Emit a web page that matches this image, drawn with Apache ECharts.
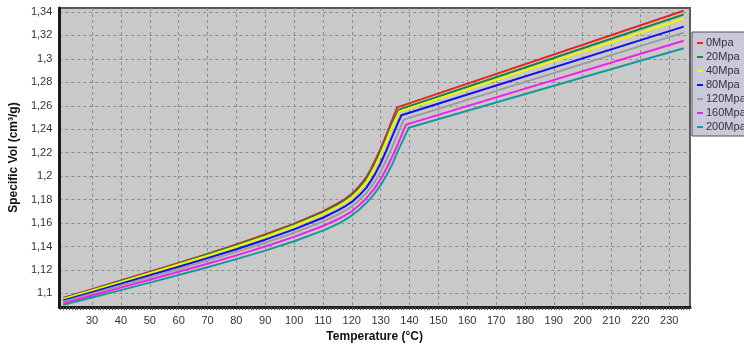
<!DOCTYPE html>
<html>
<head>
<meta charset="utf-8">
<script src="https://cdn.jsdelivr.net/npm/echarts@6/dist/echarts.min.js"></script>
<style>
html,body{margin:0;padding:0;background:#fff;}
#c{width:744px;height:348px;}
</style>
</head>
<body>
<div id="c"></div>
<script>
// ---- data ----
const seriesNames = ['0Mpa','20Mpa','40Mpa','80Mpa','120Mpa','160Mpa','200Mpa'];
const seriesColors = ['#ee2020','#15893a','#f4f400','#1010f0','#9c9c9c','#f020f0','#17999a'];

const tempBase = [20,30,40,50,60,70,80,90,100,110,115,117.5,120,122.5,125,126.5,128,130,132,134];

const t0 = tempBase.concat([135.7,235]);
const v0 = [1.0962,1.1035,1.1110,1.1185,1.1260,1.1337,1.1417,1.1502,1.1595,1.1700,1.1765,1.1803,1.1850,1.1912,1.1990,1.2055,1.2130,1.2235,1.2355,1.2480,1.2586,1.3410];

const t20 = tempBase.concat([136.3,235]);
const v20 = [1.0958,1.1030,1.1105,1.1179,1.1254,1.1331,1.1410,1.1495,1.1587,1.1691,1.1755,1.1792,1.1838,1.1898,1.1972,1.2035,1.2105,1.2210,1.2328,1.2452,1.2566,1.3378];

const t40 = tempBase.concat([136.5,235]);
const v40 = [1.0953,1.1025,1.1098,1.1172,1.1246,1.1322,1.1400,1.1484,1.1575,1.1678,1.1740,1.1776,1.1820,1.1878,1.1950,1.2012,1.2080,1.2185,1.2302,1.2425,1.2552,1.3345];

const t80 = tempBase.concat([136,137.2,235]);
const v80 = [1.0940,1.1010,1.1082,1.1154,1.1227,1.1301,1.1377,1.1458,1.1546,1.1645,1.1705,1.1739,1.1780,1.1834,1.1900,1.1955,1.2015,1.2110,1.2220,1.2340,1.2455,1.2519,1.3275];

const t120 = tempBase.concat([136,138.0,235]);
const v120 = [1.0928,1.0997,1.1067,1.1137,1.1208,1.1280,1.1354,1.1432,1.1517,1.1613,1.1670,1.1704,1.1742,1.1795,1.1855,1.1903,1.1955,1.2040,1.2140,1.2250,1.2365,1.2482,1.3224];

const t160 = tempBase.concat([136,138,138.8,235]);
const v160 = [1.0915,1.0982,1.1049,1.1116,1.1184,1.1253,1.1324,1.1400,1.1482,1.1575,1.1630,1.1663,1.1700,1.1752,1.1810,1.1853,1.1900,1.1975,1.2065,1.2165,1.2275,1.2395,1.2439,1.3154];

const t200 = tempBase.concat([136,138,139.7,235]);
const v200 = [1.0902,1.0965,1.1028,1.1092,1.1157,1.1223,1.1292,1.1365,1.1445,1.1535,1.1590,1.1625,1.1665,1.1713,1.1770,1.1810,1.1855,1.1925,1.2005,1.2100,1.2215,1.2320,1.2412,1.3090];

const xTickLabels = [30,40,50,60,70,80,90,100,110,120,130,140,150,160,170,180,190,200,210,220,230];
const yTickLabels = [1.10,1.12,1.14,1.16,1.18,1.20,1.22,1.24,1.26,1.28,1.30,1.32,1.34];

const xMin = 18.64, xMax = 237.2;
const yMin = 1.0883, yMax = 1.3434;

// ---- build ----
const allT = [t0,t20,t40,t80,t120,t160,t200];
const allV = [v0,v20,v40,v80,v120,v160,v200];
const minorTicks = [];
for (let i = Math.ceil(xMin); i <= Math.floor(xMax); i++) minorTicks.push(i);

const FONT = 'Liberation Sans, Arial, sans-serif';
const chart = echarts.init(document.getElementById('c'), null, {renderer:'canvas'});

const series = seriesNames.map((name, i) => ({
  name: name,
  type: 'line',
  xAxisIndex: 0,
  yAxisIndex: 0,
  showSymbol: false,
  symbol: 'none',
  animation: false,
  color: seriesColors[i],
  lineStyle: {width: 2, color: seriesColors[i], join: 'round'},
  data: allT[i].map((t, k) => [t, allV[i][k]])
}));

chart.setOption({
  animation: false,
  backgroundColor: '#ffffff',
  textStyle: {fontFamily: FONT},
  grid: {
    left: 55, right: 54, top: 8, bottom: 36,
    show: true, backgroundColor: '#c9c9c9',
    borderColor: '#5a5a5a', borderWidth: 2
  },
  legend: {
    orient: 'vertical',
    left: 692, top: 32,
    backgroundColor: '#c9c9da',
    borderColor: '#505050', borderWidth: 1,
    padding: [5, 30, 3, 5],
    itemWidth: 6, itemHeight: 2, itemGap: 2,
    icon: 'rect',
    textStyle: {fontFamily: FONT, fontSize: 11, color: '#333', lineHeight: 12, padding: [0,0,0,-2]},
    data: seriesNames
  },
  xAxis: [{
    type: 'value', min: xMin, max: xMax,
    name: 'Temperature (°C)', nameLocation: 'middle', nameGap: 20,
    nameTextStyle: {fontFamily: FONT, fontSize: 12, fontWeight: 'bold', color: '#111'},
    axisLine: {show: true, onZero: false, lineStyle: {color: '#1a1a1a', width: 3}},
    axisTick: {show: false, customValues: xTickLabels},
    axisLabel: {customValues: xTickLabels, fontFamily: FONT, fontSize: 11, color: '#333', margin: 8},
    splitLine: {show: true, lineStyle: {color: '#8c8c8c', type: [3,3], width: 1}}
  },{
    type: 'value', min: xMin, max: xMax, position: 'bottom',
    axisLine: {show: false},
    axisTick: {show: true, customValues: minorTicks, length: 3, lineStyle: {color: '#555', width: 1}},
    axisLabel: {show: false},
    splitLine: {show: false}
  }],
  yAxis: {
    type: 'value', min: yMin, max: yMax,
    name: 'Specific Vol (cm³/g)', nameLocation: 'middle', nameGap: 30,
    nameTextStyle: {fontFamily: FONT, fontSize: 12, fontWeight: 'bold', color: '#111'},
    axisLine: {show: true, onZero: false, lineStyle: {color: '#1a1a1a', width: 3}},
    axisTick: {show: false, customValues: yTickLabels},
    axisLabel: {customValues: yTickLabels, fontFamily: FONT, fontSize: 11, color: '#333', margin: 7,
      formatter: v => String(+(+v).toFixed(2)).replace('.', ',')},
    splitLine: {show: true, lineStyle: {color: '#8c8c8c', type: [3,3], width: 1}}
  },
  series: series
});
</script>
</body>
</html>
